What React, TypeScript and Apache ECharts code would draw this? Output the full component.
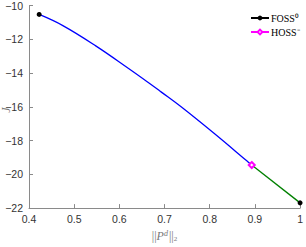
import React, { useEffect, useRef } from "react";
import * as echarts from "echarts";

const blueX = [0.4225, 0.4749, 0.5477, 0.6204, 0.664, 0.693, 0.7367, 0.8095, 0.882, 0.893];
const blueY = [-10.53, -11.19, -12.39, -13.73, -14.56, -15.13, -16.0, -17.57, -19.2, -19.45];
const greenX = [0.893, 1.0];
const greenY = [-19.45, -21.69];
const fossX = [0.4225, 1.0];
const fossY = [-10.53, -21.69];
const hossX = [0.893];
const hossY = [-19.45];
const seriesNames = ["FOSS\u2070", "HOSS\u207B"];
const yName = "J";

const zip = (xs: number[], ys: number[]) => xs.map((x, i) => [x, ys[i]]);

export default function App() {
  const ref = useRef<HTMLDivElement>(null);
  useEffect(() => {
    const chart = echarts.init(ref.current!, undefined, { renderer: "svg" });
    const fossData: any[] = [];
    zip(fossX, fossY).forEach((p, i) => {
      if (i > 0) fossData.push(["-", "-"]);
      fossData.push(p);
    });
    const axisCommon = {
      axisLine: { show: true, lineStyle: { color: "#8a8a8a", width: 1 } },
      axisTick: { show: true, inside: true, length: 4, lineStyle: { color: "#8a8a8a" } },
      splitLine: { show: false },
    };
    chart.setOption({
      animation: false,
      grid: { left: 29, right: 2, top: 3.5, bottom: 27, containLabel: false },
      legend: {
        data: seriesNames,
        orient: "vertical",
        left: 245,
        top: 8,
        itemWidth: 18,
        itemHeight: 6,
        itemGap: 4,
        textStyle: { fontFamily: "Liberation Serif", fontWeight: "normal", fontSize: 10, color: "#000", padding: [0, 0, 0, -3] },
      },
      graphic: [
        {
          type: "text",
          x: 6,
          y: 110,
          rotation: Math.PI / 2,
          style: {
            text: yName,
            fill: "#777",
            font: "italic 12px 'Liberation Serif'",
            align: "center",
            verticalAlign: "middle",
          },
        },
      ],
      xAxis: {
        type: "value",
        min: 0.4,
        max: 1,
        interval: 0.1,
        ...axisCommon,
        axisLabel: {
          margin: 5,
          fontFamily: "Liberation Sans",
          fontSize: 10.5,
          color: "#333",
          formatter: (v: number) => (Math.abs(v - 1) < 1e-9 ? "1" : v.toFixed(1)),
        },
        name: "{b|||}{i|P}{s|d}{b|||}{sub|2}",
        nameLocation: "middle",
        nameGap: 20,
        nameTextStyle: {
          color: "#777",
          rich: {
            b: { fontFamily: "Liberation Serif", fontSize: 12, color: "#777" },
            i: { fontFamily: "Liberation Serif", fontStyle: "italic", fontSize: 12, color: "#777" },
            s: { fontFamily: "Liberation Serif", fontStyle: "italic", fontSize: 8, color: "#777", padding: [0, 1, 6, 0] },
            sub: { fontFamily: "Liberation Serif", fontSize: 7, color: "#777", padding: [5, 0, 0, 0] },
          },
        },
      },
      yAxis: {
        type: "value",
        min: -22,
        max: -10,
        interval: 2,
        ...axisCommon,
        axisLabel: {
          margin: 6,
          fontFamily: "Liberation Sans",
          fontSize: 10.5,
          color: "#333",
          formatter: (v: number) => String(v).replace("-", "\u2212"),
        },
      },
      series: [
        {
          name: "blue",
          type: "line",
          data: zip(blueX, blueY),
          showSymbol: false,
          smooth: 0.4,
          lineStyle: { color: "#0000ff", width: 1.3 },
          itemStyle: { color: "#0000ff" },
          z: 2,
        },
        {
          name: "green",
          type: "line",
          data: zip(greenX, greenY),
          showSymbol: false,
          lineStyle: { color: "#008000", width: 1.3 },
          itemStyle: { color: "#008000" },
          z: 2,
        },
        {
          name: seriesNames[0],
          type: "line",
          data: fossData,
          connectNulls: false,
          symbol: "circle",
          symbolSize: 5,
          showAllSymbol: true,
          lineStyle: { color: "#000", width: 1.2 },
          itemStyle: { color: "#000" },
          z: 4,
        },
        {
          name: seriesNames[1],
          type: "line",
          data: zip(hossX, hossY),
          symbol: "emptyDiamond",
          symbolSize: 6,
          lineStyle: { color: "#ff00ff", width: 1.2 },
          itemStyle: { color: "#ff00ff", borderColor: "#ff00ff", borderWidth: 1.2 },
          z: 5,
        },
      ],
    });
    return () => chart.dispose();
  }, []);
  return (
    <div
      ref={ref}
      style={{ position: "fixed", left: 0, top: 0, width: 306, height: 247, background: "#fff" }}
    />
  );
}
